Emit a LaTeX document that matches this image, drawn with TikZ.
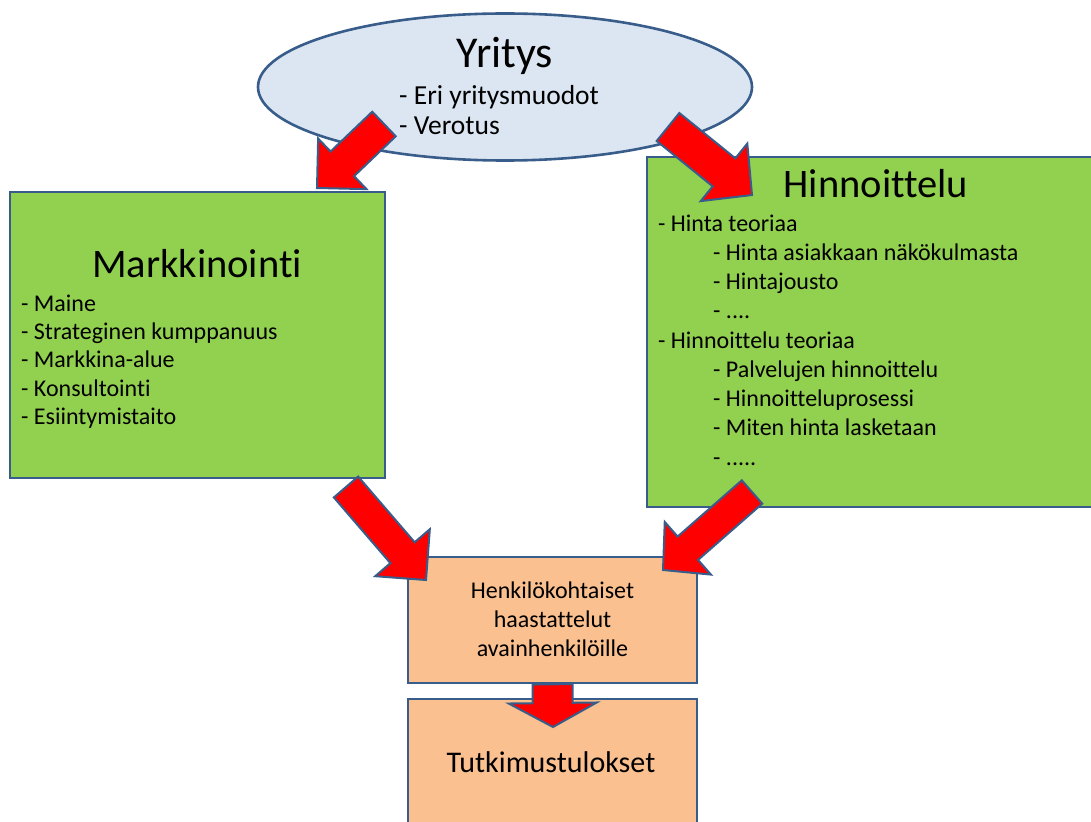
\documentclass[tikz,border=0pt]{standalone}
\usepackage{fontspec}
\setmainfont{Carlito}[Ligatures=NoCommon]
\usetikzlibrary{shapes.geometric,calc}

\definecolor{edge}{HTML}{385D8A}
\definecolor{leaf}{HTML}{92D050}
\definecolor{peach}{HTML}{FAC090}
\definecolor{sky}{HTML}{DCE6F2}
\definecolor{flow}{HTML}{FF0000}

\newcommand\fourdots{....}
\newcommand\fivedots{.....}

\tikzset{
  panel/.style={draw=edge, line width=2.6pt, inner sep=0pt},
  greenbox/.style={panel, fill=leaf},
  peachbox/.style={panel, fill=peach},
  cloud/.style={panel, ellipse, fill=sky},
  title/.style={font=\fontsize{40.5}{48}\selectfont, inner sep=0pt, anchor=base},
  bigtitle/.style={font=\fontsize{44}{52}\selectfont, inner sep=0pt, anchor=base},
  subtitle/.style={font=\fontsize{30}{36}\selectfont, inner sep=0pt, anchor=base},
  item/.style={font=\fontsize{24}{29}\selectfont, inner sep=0pt, anchor=base west},
  bigitem/.style={font=\fontsize{27.5}{33}\selectfont, inner sep=0pt, anchor=base west},
  citem/.style={font=\fontsize{24}{29}\selectfont, inner sep=0pt, anchor=base},
  blockarrow/.style={draw=edge, line width=2pt, fill=flow, line join=miter},
}

% thick block arrow: #1 tail, #2 tip, #3 half shaft width, #4 half head width, #5 head length
\newcommand\fatarrow[5]{%
  \path ($(#2)!#5!(#1)$) coordinate (fa-b);
  \draw[blockarrow]
    ($(#1)!#3!90:(#2)$) -- ($(fa-b)!#3!90:(#2)$) -- ($(fa-b)!#4!90:(#2)$)
    -- (#2)
    -- ($(fa-b)!#4!-90:(#2)$) -- ($(fa-b)!#3!-90:(#2)$) -- ($(#1)!#3!-90:(#2)$)
    -- cycle;
}

\begin{document}
\begin{tikzpicture}[x=1pt,y=-1pt]
\clip (0,0) rectangle (1091,821);
\fill[white] (0,0) rectangle (1091,821);

% company ellipse
\node[cloud, minimum width=494pt, minimum height=147pt] (yritys) at (505,87) {};
\node[bigtitle] (yt) at (505,68) {Yritys};
\node[bigitem] (y1) at (399,105) {- Eri yritysmuodot};
\node[bigitem] (y2) at (399,135) {- Verotus};

% marketing box
\node[greenbox, minimum width=375pt, minimum height=286pt] (mark) at (197.5,335) {};
\node[title] (mt) at (197,277) {Markkinointi};
\foreach \t [count=\i] in {- Maine, - Strateginen kumppanuus, - Markkina-alue, - Konsultointi, - Esiintymistaito}
  \node[item] (m\i) at (21,{311+28.4*(\i-1)}) {\t};

% pricing box
\node[greenbox, minimum width=446pt, minimum height=350pt] (hinta) at (870,332) {};
\node[title] (ht) at (876,197) {Hinnoittelu};
\foreach \x/\t [count=\i] in {658/- Hinta teoriaa, 713/- Hinta asiakkaan näkökulmasta, 713/- Hintajousto, 713/- \fourdots, 658/- Hinnoittelu teoriaa, 713/- Palvelujen hinnoittelu, 713/- Hinnoitteluprosessi, 713/- Miten hinta lasketaan, 713/- \fivedots}
  \node[item] (h\i) at (\x,{231+29.25*(\i-1)}) {\t};

% interviews box
\node[peachbox, minimum width=289pt, minimum height=126pt] (haast) at (552.5,620) {};
\node[citem] (k1) at (552.5,598) {Henkilökohtaiset};
\node[citem] (k2) at (552.5,627) {haastattelut};
\node[citem] (k3) at (552.5,656) {avainhenkilöille};

% results box
\node[peachbox, minimum width=289pt, minimum height=131pt] (tulos) at (552.5,764.5) {};
\node[subtitle] (tt) at (551,772) {Tutkimustulokset};

% arrow end points
\coordinate (a1s) at (384,124);  \coordinate (a1e) at (317,188);
\coordinate (a2s) at (668,127);  \coordinate (a2e) at (752,195);
\coordinate (a3s) at (346,487);  \coordinate (a3e) at (426,580);
\coordinate (a4s) at (752,492);  \coordinate (a4e) at (663,570);
\coordinate (a5s) at (haast.south); \coordinate (a5e) at (553,727);

\fatarrow{a1s}{a1e}{17pt}{35pt}{35pt}
\fatarrow{a2s}{a2e}{18pt}{37pt}{36pt}
\fatarrow{a3s}{a3e}{16pt}{36pt}{36pt}
\fatarrow{a4s}{a4e}{15.5pt}{35pt}{33pt}
\fatarrow{a5s}{a5e}{20pt}{44pt}{24pt}
\end{tikzpicture}
\end{document}
